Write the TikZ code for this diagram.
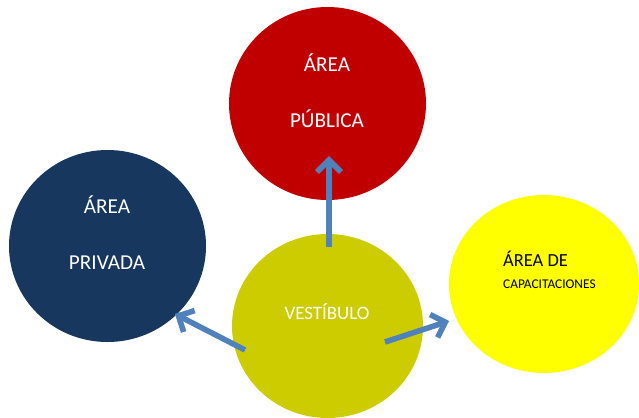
\documentclass[tikz,border=0pt]{standalone}
\usepackage{fontspec}
\setmainfont{Carlito}
\usetikzlibrary{shapes.geometric,arrows.meta}
\definecolor{cred}{HTML}{C00000}
\definecolor{cblue}{HTML}{17375E}
\definecolor{colive}{HTML}{CCCC00}
\definecolor{cyel}{HTML}{FFFF00}
\definecolor{carrow}{HTML}{4F81BD}
\tikzset{
  blob/.style={ellipse, inner sep=0pt, draw=none},
  lbl/.style={anchor=base, inner sep=0pt, text=white, font=\fontsize{21.3}{24}\selectfont},
  conn/.style={draw=carrow, line width=5.5bp, -{Straight Barb[length=12bp,width=24bp,line width=5.5bp]}},
  shad/.style={draw=black!35, opacity=0.35, line width=5.5bp, -{Straight Barb[length=12bp,width=24bp,line width=5.5bp]}}
}
\begin{document}
\begin{tikzpicture}[x=1bp,y=-1bp]
\useasboundingbox (0,0) rectangle (639,417);
\fill[white] (0,0) rectangle (639,417);
\node[blob, fill=cblue, minimum width=197bp, minimum height=192bp] (priv) at (107.5,246) {};
\node[blob, fill=cred, minimum width=197bp, minimum height=193bp] (pub) at (327.5,103.5) {};
\node[blob, fill=colive, minimum width=191bp, minimum height=184bp] (vest) at (327.5,326) {};
\node[blob, fill=cyel, minimum width=190bp, minimum height=178bp] (cap) at (544,284) {};
\node[lbl] (t1) at (107,213) {ÁREA};
\node[lbl] (t2) at (107,269) {PRIVADA};
\node[lbl] (t3) at (327,71) {ÁREA};
\node[lbl] (t4) at (327,127) {PÚBLICA};
\node[lbl, font=\fontsize{19}{22}\selectfont] (t5) at (327,319) {VESTÍBULO};
\node[anchor=base west, inner sep=0pt, font=\fontsize{18.5}{22}\selectfont] (t6) at (503,266) {ÁREA DE};
\node[anchor=base west, inner sep=0pt, font=\fontsize{13.4}{16}\selectfont] (t7) at (503,288) {CAPACITACIONES};
\coordinate (a1s) at (329,247);
\coordinate (a1e) at (329,156);
\coordinate (a2s) at (245,350);
\coordinate (a2e) at (175,314);
\coordinate (a3s) at (385,342);
\coordinate (a3e) at (449,321);
\begin{scope}[shift={(2,2)}]
\draw[shad] (a1s) -- (a1e);
\draw[shad] (a2s) -- (a2e);
\draw[shad] (a3s) -- (a3e);
\end{scope}
\draw[conn] (a1s) -- (a1e);
\draw[conn] (a2s) -- (a2e);
\draw[conn] (a3s) -- (a3e);
\end{tikzpicture}
\end{document}
